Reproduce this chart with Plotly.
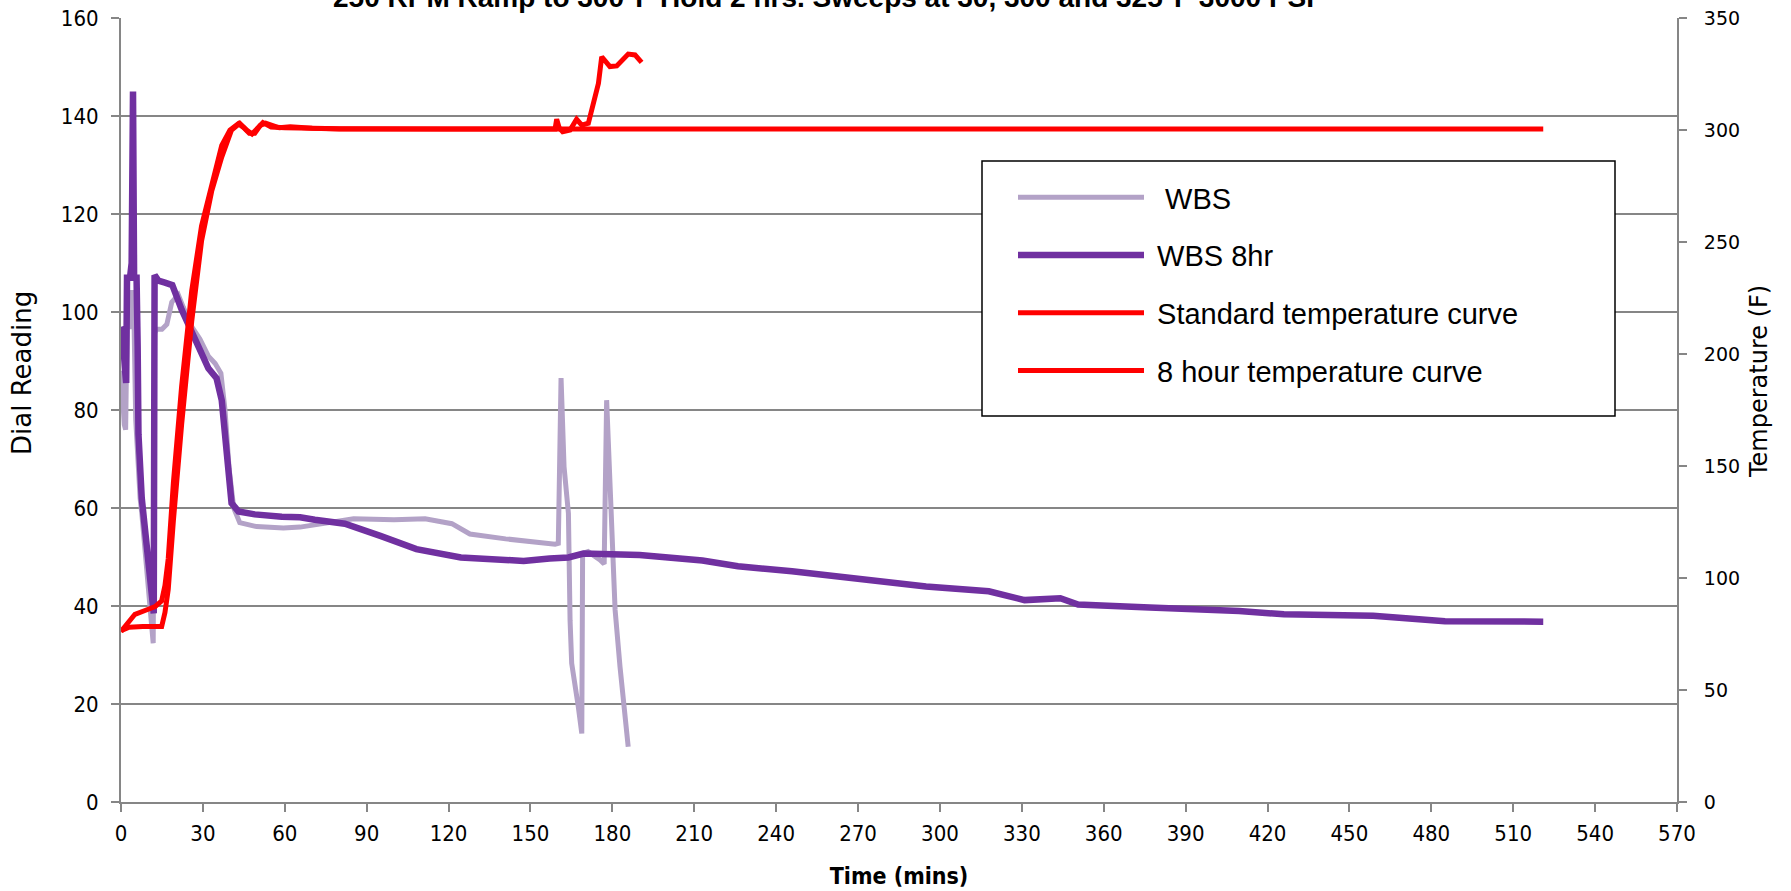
import plotly.graph_objects as go

# ---------------- data ----------------
wbs_t = [0, 0.6, 1.2, 1.7, 2.2, 3.0, 3.5, 4.2, 4.8, 5.4, 6.2, 7.0, 7.6, 8.8, 10.0, 10.8, 11.8,
         12.3, 13.0, 15.0, 16.8, 18.6, 21.0, 22.8, 25.9, 28.9, 32.0, 34.5, 36.6, 38.1, 39.6,
         41.3, 43.5, 49.7, 55.0, 59.5, 65.6, 75.0, 85.2, 100.0, 111.4, 121.2, 127.8, 140.9,
         150.0, 159.0, 160.2, 161.2, 162.3, 163.9, 164.5, 165.1, 167.5, 168.8, 169.1, 171.1,
         175.5, 177.0, 177.9, 179.1, 179.7, 181.0, 182.8, 184.0, 185.8]
wbs_v = [88, 82, 77, 76, 97, 97, 104, 104, 97, 78, 68, 62, 59, 52, 45, 40, 32.4,
         95.7, 96.5, 96.5, 97.5, 102, 103.5, 101, 97, 94.5, 91, 89.5, 87.5, 80, 68,
         60, 57, 56.2, 56, 55.9, 56.1, 57.0, 57.8, 57.6, 57.8, 56.8, 54.7, 53.7,
         53.2, 52.6, 52.8, 86.5, 68.4, 58.9, 37.1, 28.3, 19.5, 14.0, 50.7, 51.1,
         49.4, 48.6, 82.0, 63.7, 54.0, 39.2, 27.6, 20.1, 11.3]

wbs8_t = [0, 0.5, 1.5, 1.9, 2.2, 3.3, 3.9, 4.4, 4.8, 5.7, 6.1, 6.4, 7.6, 8.8, 10.0, 11.2, 12.0,
          12.3, 13.7, 16.1, 18.8, 22.2, 25.9, 28.9, 32.0, 35.0, 36.9, 38.1, 39.3, 40.5, 43.0,
          49.0, 58.9, 65.6, 71.0, 82.0, 95.0, 108.2, 124.5, 147.5, 157.0, 163.9, 169.4, 178.0,
          190.0, 213.0, 226.0, 245.8, 268.7, 294.9, 317.9, 331.0, 344.1, 350.6, 376.8, 409.6,
          426.0, 458.7, 485.0, 521.0]
wbs8_v = [97, 96, 88, 85.5, 107, 107, 110, 145, 107, 107, 93, 75, 62, 55, 48, 40, 38.5,
          107.5, 106.4, 106, 105.5, 100.5, 96, 92, 88.5, 86.5, 82, 75, 66, 61, 59.3,
          58.7, 58.2, 58.1, 57.6, 56.8, 54.3, 51.6, 49.9, 49.2, 49.7, 49.9, 50.7, 50.6,
          50.4, 49.3, 48.1, 47.1, 45.7, 44.0, 43.0, 41.2, 41.6, 40.3, 39.7, 39.0,
          38.3, 38.0, 36.9, 36.8]

std_t = [0, 2.7, 5.1, 8.8, 12.5, 14.9, 16.1, 17.3, 19.2, 22.2, 25.9, 29.5, 33.2, 36.9, 39.9,
         43.0, 45.0, 47.0, 49.0, 51.0, 53.0, 55.0, 58.0, 62.0, 70.0, 80.0, 100.0, 120.0, 140.0,
         159.0, 159.6, 160.5, 161.8, 164.5, 166.9, 168.8, 171.2, 173.0, 174.9, 176.1, 179.1,
         181.6, 185.8, 188.3, 190.7]
std_T = [76.1, 80.4, 83.8, 85.5, 87.2, 89.8, 96.6, 108.6, 142.7, 185.4, 228.2, 257.2, 276.0,
         293.1, 299.9, 302.8, 301.0, 298.5, 298.5, 302.0, 303.0, 302.0, 301.0, 301.5, 300.8,
         300.5, 300.2, 300.4, 300.4, 300.4, 304.8, 301.0, 299.2, 300.0, 304.8, 302.2, 303.0,
         312.6, 320.8, 332.7, 328.3, 328.6, 333.9, 333.5, 330.2]

hr8_t = [0, 3, 8, 14.9, 16.1, 17.3, 19.2, 22.2, 25.9, 29.5, 33.2, 36.9, 40.5, 43.5, 46.0, 48.0,
         52.0, 55.0, 60.0, 80.0, 120.0, 200.0, 300.0, 400.0, 521.0]
hr8_T = [76.5, 78.0, 78.3, 78.3, 84.6, 94.9, 125.7, 168.4, 214.5, 250.4, 272.6, 287.9, 300.0,
         303.0, 300.0, 298.2, 303.3, 301.3, 301.0, 300.6, 300.5, 300.5, 300.5, 300.5, 300.5]

x_ticks = list(range(0, 571, 30))
series_names = ["  WBS", " WBS 8hr", " Standard temperature curve", " 8 hour temperature curve"]
title_text = "250 RPM Ramp to 300°F Hold 2 hrs. Sweeps at 30, 300 and 325°F 3000 PSI"
y_title = "Dial Reading"
y2_title = "Temperature (F)"

# ---------------- figure ----------------
LIGHT = "#B3A2C7"
DARK = "#7030A0"
RED = "#FF0000"
GRID = "#868686"
NARROW = "Liberation Sans Narrow, Arial Narrow, DejaVu Sans Condensed, sans-serif"

fig = go.Figure()
fig.add_trace(go.Scatter(x=wbs_t, y=wbs_v, name=series_names[0], mode="lines",
                         line=dict(color=LIGHT, width=5), legendgroup="a"))
fig.add_trace(go.Scatter(x=wbs8_t, y=wbs8_v, name=series_names[1], mode="lines",
                         line=dict(color=DARK, width=6.5), legendgroup="b"))
fig.add_trace(go.Scatter(x=std_t, y=std_T, name=series_names[2], mode="lines",
                         line=dict(color=RED, width=5), yaxis="y2", legendgroup="c"))
fig.add_trace(go.Scatter(x=hr8_t, y=hr8_T, name=series_names[3], mode="lines",
                         line=dict(color=RED, width=5), yaxis="y2", legendgroup="d"))

W, H = 1791, 891
# plot area in page pixels (body margin removed by post_script)
PL, PR, PT, PB = 121, 1677, 18, 802
PW, PH = PR - PL, PB - PT

def px(xp):
    return (xp - PL) / PW

def py(yp):
    return (PB - yp) / PH

fig.update_layout(
    width=W, height=H,
    margin=dict(l=PL, r=W - PR, t=PT, b=H - PB, autoexpand=False),
    paper_bgcolor="white", plot_bgcolor="white",
    showlegend=True,
    legend=dict(x=px(1013), y=py(172), xanchor="left", yanchor="top",
                font=dict(family="Liberation Sans, Arial, sans-serif", size=29, color="black"),
                bgcolor="rgba(0,0,0,0)", borderwidth=0, itemwidth=126,
                tracegroupgap=17),
    xaxis=dict(range=[0, 570], tickvals=x_ticks, ticks="outside", ticklen=8,
               tickwidth=2, tickcolor=GRID, showline=True, linecolor=GRID, linewidth=2,
               showgrid=False, zeroline=False, ticklabelstandoff=3, automargin=False,
               ticklabeloverflow="allow",
               tickfont=dict(family=NARROW, size=22, color="black"),
               title=dict(text="<b>Time (mins)</b>", standoff=22,
                          font=dict(family=NARROW, size=23, color="black"))),
    yaxis=dict(range=[0, 160], dtick=20, ticks="outside", ticklen=8, tickwidth=2,
               tickcolor=GRID, showline=True, linecolor=GRID, linewidth=2,
               showgrid=True, gridcolor=GRID, gridwidth=2, zeroline=False,
               ticklabelstandoff=8, automargin=False, ticklabeloverflow="allow",
               tickfont=dict(family=NARROW, size=22, color="black")),
    yaxis2=dict(range=[0, 350], dtick=50, overlaying="y", side="right", ticks="outside",
                ticklen=8, tickwidth=2, tickcolor=GRID, showline=True, linecolor=GRID,
                linewidth=2, showgrid=False, zeroline=False, ticklabelstandoff=13,
                automargin=False, ticklabeloverflow="allow",
                tickfont=dict(family="DejaVu Sans, sans-serif", size=19, color="black")),
    shapes=[dict(type="rect", xref="paper", yref="paper", x0=px(982), x1=px(1615),
                 y0=py(416), y1=py(161), fillcolor="white",
                 line=dict(color="black", width=1.5), layer="above")],
    annotations=[
        dict(text="<b>" + title_text + "</b>", xref="paper", yref="paper",
             x=px(823), y=1, xanchor="center", yanchor="bottom", yshift=3,
             showarrow=False,
             font=dict(family="Liberation Sans, Arial, sans-serif", size=28, color="black")),
        dict(text=y_title, xref="paper", yref="paper", x=px(22), y=py(373),
             xanchor="center", yanchor="middle", textangle=-90, showarrow=False,
             font=dict(family="DejaVu Sans, sans-serif", size=26, color="black")),
        dict(text=y2_title, xref="paper", yref="paper", x=px(1759), y=py(382),
             xanchor="center", yanchor="middle", textangle=-90, showarrow=False,
             font=dict(family="DejaVu Sans, sans-serif", size=24, color="black")),
    ],
)

fig.write_html("out.html",
               config={"displayModeBar": False},
               post_script="document.body.style.margin='0';"
                           "document.body.style.overflow='hidden';")
